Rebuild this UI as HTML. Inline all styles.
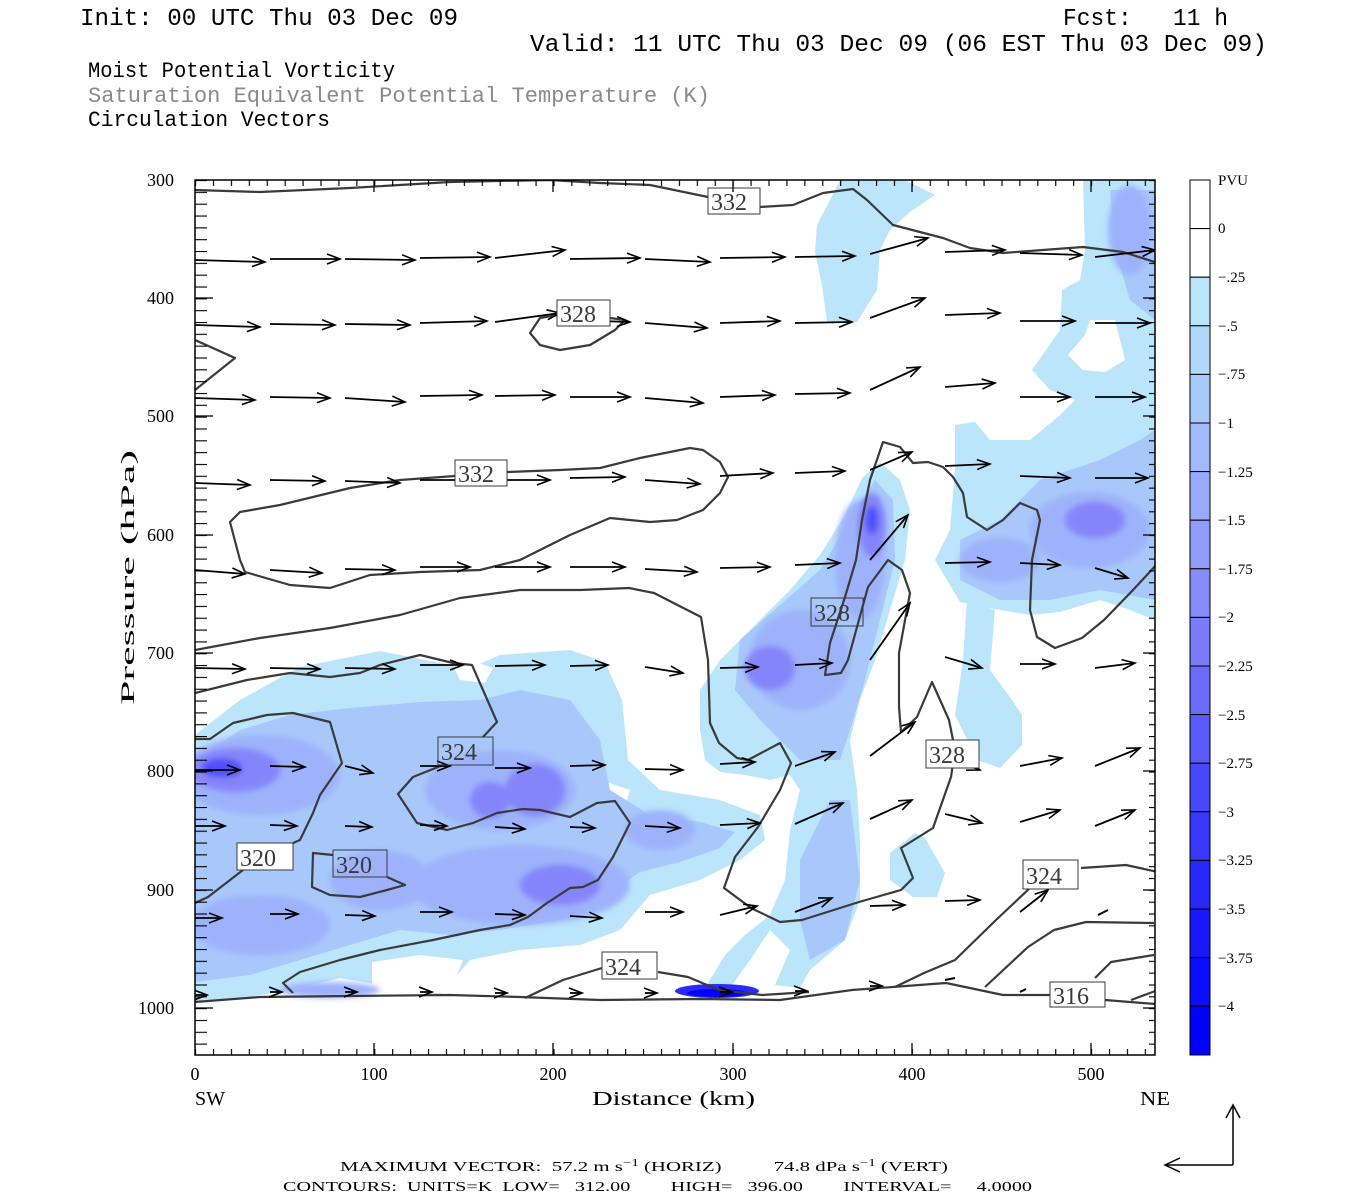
<!DOCTYPE html>
<html><head><meta charset="utf-8"><style>
html,body{margin:0;padding:0;background:#fff;}
svg{display:block;}
text{font-family:"Liberation Serif","DejaVu Serif",serif;}
.m{font-family:"Liberation Mono","DejaVu Sans Mono",monospace;}
</style></head><body>
<svg width="1350" height="1200" viewBox="0 0 1350 1200" xmlns="http://www.w3.org/2000/svg">
<defs>
<marker id="ah" markerWidth="16" markerHeight="12" refX="14" refY="6" orient="auto" markerUnits="userSpaceOnUse"><path d="M1,1 L14,6 L1,11" fill="none" stroke="#000" stroke-width="1.6"/></marker>
<pattern id="tl" patternUnits="userSpaceOnUse" x="0" y="180" width="20" height="11.83"><line x1="0" y1="0.5" x2="20" y2="0.5" stroke="#000" stroke-width="1.3"/></pattern>
<pattern id="tb" patternUnits="userSpaceOnUse" x="195" y="0" width="17.92" height="20"><line x1="0.5" y1="0" x2="0.5" y2="20" stroke="#000" stroke-width="1.3"/></pattern>
<clipPath id="pc"><rect x="195" y="180" width="960" height="875"/></clipPath>
<filter id="bl" x="-20%" y="-20%" width="140%" height="140%"><feGaussianBlur stdDeviation="3"/></filter>
</defs>

<!-- titles -->
<text class="m" x="80" y="25" font-size="24" textLength="378" lengthAdjust="spacingAndGlyphs">Init: 00 UTC Thu 03 Dec 09</text>
<text class="m" x="1063" y="25" font-size="24" xml:space="preserve" textLength="165" lengthAdjust="spacingAndGlyphs">Fcst:   11 h</text>
<text class="m" x="530" y="51" font-size="24" textLength="737" lengthAdjust="spacingAndGlyphs">Valid: 11 UTC Thu 03 Dec 09 (06 EST Thu 03 Dec 09)</text>
<text class="m" x="88" y="77" font-size="22" textLength="307" lengthAdjust="spacingAndGlyphs">Moist Potential Vorticity</text>
<text class="m" x="88" y="102" font-size="22" fill="#8a8a8a" textLength="622" lengthAdjust="spacingAndGlyphs">Saturation Equivalent Potential Temperature (K)</text>
<text class="m" x="88" y="126" font-size="22" textLength="242" lengthAdjust="spacingAndGlyphs">Circulation Vectors</text>

<g clip-path="url(#pc)">
<g fill="#bbe5fb">
<polygon points="195,735 240,700 300,667 380,651 430,661 470,668 500,655 570,650 605,662 622,700 628,760 660,790 720,800 760,815 765,840 740,860 700,880 650,895 620,930 580,945 520,950 470,960 440,995 380,985 340,978 300,988 250,997 195,1002"/>
<polygon points="700,690 720,660 760,620 790,590 820,555 845,515 862,478 880,462 900,480 910,510 905,560 890,610 875,660 860,700 850,740 857,790 860,840 860,900 845,940 810,970 800,988 775,985 790,950 770,930 750,960 730,988 705,988 725,955 745,935 770,915 785,880 790,830 800,790 790,775 770,780 745,775 720,772 705,760 700,730"/>
<polygon points="840,180 905,180 935,195 910,212 890,230 880,250 877,290 857,322 827,322 822,285 815,252 817,225 830,200"/>
<polygon points="1083,180 1155,180 1155,620 1130,610 1100,600 1060,612 1030,615 1000,610 960,602 935,560 950,530 955,470 955,425 975,422 990,440 1030,440 1060,415 1075,400 1050,390 1032,370 1060,330 1062,290 1080,280 1085,250"/>
<polygon points="967,600 995,610 990,670 1012,700 1022,715 1022,745 1000,768 977,760 955,715 963,660"/>
<polygon points="915,833 925,838 945,873 937,897 913,897 890,880 890,853"/>
</g>
<g fill="#fff">
<polygon points="195,815 240,812 300,818 315,830 300,860 270,870 230,873 195,878"/>
<polygon points="447,653 470,660 493,668 485,683 460,680"/>
<polygon points="567,790 600,780 630,790 625,807 590,805"/>
<polygon points="1090,320 1115,320 1125,360 1105,372 1083,370 1068,355 1085,335"/>
<polygon points="372,962 420,955 463,960 450,993 400,993 372,990"/>
</g>
<g fill="#a8c8fb">
<polygon points="195,760 240,730 290,715 350,708 420,702 480,700 520,690 570,700 600,740 610,790 650,815 700,822 735,832 720,848 680,862 640,872 600,900 560,920 500,930 450,935 400,930 350,945 300,960 250,975 195,982"/>
<polygon points="740,640 780,605 820,570 850,520 875,480 893,500 895,560 880,620 865,680 850,730 840,760 800,760 760,720 735,690"/>
<polygon points="1040,480 1100,460 1140,440 1155,430 1155,600 1100,590 1050,600 1000,600 960,580 960,540 1000,520"/>
<polygon points="1110,190 1155,190 1155,320 1130,300 1115,250"/>
<polygon points="800,860 830,800 850,800 860,880 845,940 810,960 800,920"/>
</g>
<g fill="#9db2fb" filter="url(#bl)">
<ellipse cx="260" cy="775" rx="80" ry="40"/>
<ellipse cx="500" cy="790" rx="75" ry="40"/>
<ellipse cx="520" cy="885" rx="110" ry="40"/>
<ellipse cx="260" cy="925" rx="70" ry="30"/>
<ellipse cx="380" cy="880" rx="50" ry="30"/>
<ellipse cx="660" cy="830" rx="35" ry="20"/>
<ellipse cx="800" cy="660" rx="50" ry="50"/>
<ellipse cx="860" cy="560" rx="25" ry="60"/>
<ellipse cx="1090" cy="530" rx="60" ry="38"/>
<ellipse cx="1000" cy="560" rx="40" ry="22"/>
<ellipse cx="1130" cy="230" rx="22" ry="45"/>
<ellipse cx="330" cy="990" rx="50" ry="8"/>
</g>
<g fill="#8585fb" filter="url(#bl)">
<ellipse cx="235" cy="770" rx="45" ry="22"/>
<ellipse cx="535" cy="790" rx="30" ry="26"/>
<ellipse cx="490" cy="800" rx="20" ry="18"/>
<ellipse cx="770" cy="668" rx="25" ry="22"/>
<ellipse cx="872" cy="525" rx="14" ry="32"/>
<ellipse cx="1095" cy="520" rx="30" ry="18"/>
<ellipse cx="560" cy="885" rx="40" ry="20"/>
</g>
<g fill="#5050fb" filter="url(#bl)">
<ellipse cx="222" cy="768" rx="20" ry="9"/>
<ellipse cx="872" cy="520" rx="6" ry="14"/>
</g>
<ellipse cx="717" cy="991" rx="42" ry="7" fill="#2a2afb"/>
<ellipse cx="717" cy="993" rx="30" ry="4" fill="#0000ff"/>

<g fill="none" stroke="#3a3a3a" stroke-width="2.2" stroke-linejoin="round">
<polyline points="195,190 260,192 350,188 450,182 550,180 600,183 650,185 708,197"/>
<polyline points="760,207 793,205 823,193 853,189 867,200 893,225 943,238 970,248 1003,253 1083,247 1123,252 1158,263"/>
<polyline points="557,315 540,318 530,333 540,345 560,350 590,345 615,330 625,320 610,318"/>
<polyline points="195,340 235,358 195,390"/>
<polyline points="455,476 400,480 350,488 280,505 240,512 230,522 240,560 245,572 290,585 330,588 370,575 420,572 480,570 520,560 570,535 610,518 650,522 677,520 703,510 720,493 728,477 720,462 703,450 690,448 640,458 600,468 560,470 507,472"/>
<polyline points="195,650 260,638 330,628 400,615 460,598 520,590 580,590 629,588 654,593 701,617 708,660 710,723 719,743 737,758 748,760 780,743 791,763 780,790 758,827 735,857 724,888 751,908 780,922 802,920 859,902 901,890 913,878 901,848 933,828 951,777 955,750 949,720 932,682 917,717 901,732 899,707 899,653 910,593 902,570 888,560 868,587 857,627 848,660 841,673 825,675 830,643 845,597 856,560 862,520 870,480 883,442 900,447 913,463 928,462 943,467 953,477 963,493 967,517 987,530 1003,520 1020,503 1037,510 1040,520 1032,560 1030,610 1037,637 1055,648 1082,638 1104,620 1133,590 1158,563"/>
<polyline points="195,693 247,680 290,673 330,677 360,673 380,665 420,655 453,663 472,665 497,722 483,737"/>
<polyline points="443,765 413,777 398,794 417,823 447,830 473,823 497,813 523,809 540,810 570,817 597,803 615,801 630,823 613,857 598,880 583,887 570,888 547,903 528,917 510,925 480,930 433,940 380,950 340,960 300,972 283,983 293,993"/>
<polyline points="195,739 210,739 233,723 267,715 293,713 330,722 342,763 320,795 313,813 300,840 293,843"/>
<polyline points="243,870 208,897 195,903"/>
<polyline points="333,855 313,853 312,887 330,895 360,897 387,890 405,885 387,877"/>
<polyline points="525,998 563,980 602,968"/>
<polyline points="658,972 688,977 719,990 762,995 809,992"/>
<polyline points="1030,888 996,920 955,960 924,973 895,987"/>
<polyline points="1081,868 1126,865 1158,872"/>
<polyline points="985,987 1028,947 1054,930 1086,922 1154,923"/>
<polyline points="1095,978 1111,962 1154,955"/>
<polyline points="1131,1000 1158,990"/>
<polyline points="195,1002 260,997 350,996 450,995 520,997 600,1000 700,999 780,1000 852,990 946,983 1003,995 1050,995"/>
<polyline points="1105,1000 1155,1004"/>
</g>

<g stroke="#000" stroke-width="1.8" marker-end="url(#ah)">
<line x1="195" y1="260" x2="265" y2="262"/><line x1="270" y1="259" x2="340" y2="259"/><line x1="345" y1="259" x2="415" y2="260"/><line x1="420" y1="258" x2="490" y2="257"/><line x1="495" y1="258" x2="565" y2="250"/><line x1="570" y1="259" x2="640" y2="258"/><line x1="645" y1="259" x2="710" y2="262"/><line x1="720" y1="258" x2="785" y2="257"/><line x1="795" y1="257" x2="855" y2="256"/><line x1="870" y1="254" x2="928" y2="238"/><line x1="945" y1="252" x2="1005" y2="250"/><line x1="1020" y1="253" x2="1082" y2="255"/><line x1="1095" y1="257" x2="1155" y2="250"/>
<line x1="195" y1="325" x2="260" y2="327"/><line x1="270" y1="324" x2="335" y2="325"/><line x1="345" y1="324" x2="410" y2="325"/><line x1="420" y1="323" x2="487" y2="321"/><line x1="495" y1="322" x2="560" y2="313"/><line x1="570" y1="320" x2="630" y2="322"/><line x1="645" y1="323" x2="707" y2="328"/><line x1="720" y1="323" x2="780" y2="321"/><line x1="795" y1="323" x2="852" y2="322"/><line x1="870" y1="318" x2="925" y2="298"/><line x1="945" y1="315" x2="1000" y2="313"/><line x1="1020" y1="321" x2="1075" y2="321"/><line x1="1095" y1="323" x2="1150" y2="323"/>
<line x1="195" y1="398" x2="255" y2="400"/><line x1="270" y1="397" x2="330" y2="398"/><line x1="345" y1="398" x2="405" y2="402"/><line x1="420" y1="396" x2="482" y2="395"/><line x1="495" y1="396" x2="555" y2="395"/><line x1="570" y1="397" x2="630" y2="397"/><line x1="645" y1="398" x2="703" y2="403"/><line x1="720" y1="397" x2="775" y2="395"/><line x1="795" y1="394" x2="850" y2="393"/><line x1="870" y1="390" x2="920" y2="367"/><line x1="945" y1="387" x2="995" y2="383"/><line x1="1020" y1="397" x2="1070" y2="397"/><line x1="1095" y1="397" x2="1145" y2="397"/>
<line x1="195" y1="483" x2="250" y2="485"/><line x1="270" y1="480" x2="325" y2="481"/><line x1="345" y1="481" x2="400" y2="483"/><line x1="420" y1="480" x2="472" y2="480"/><line x1="495" y1="480" x2="550" y2="480"/><line x1="570" y1="478" x2="625" y2="477"/><line x1="645" y1="480" x2="700" y2="484"/><line x1="720" y1="476" x2="773" y2="473"/><line x1="795" y1="473" x2="845" y2="471"/><line x1="870" y1="470" x2="912" y2="452"/><line x1="945" y1="466" x2="990" y2="464"/><line x1="1020" y1="476" x2="1070" y2="478"/><line x1="1095" y1="478" x2="1148" y2="478"/>
<line x1="195" y1="570" x2="245" y2="574"/><line x1="270" y1="570" x2="322" y2="573"/><line x1="345" y1="569" x2="395" y2="570"/><line x1="420" y1="567" x2="470" y2="567"/><line x1="495" y1="567" x2="550" y2="567"/><line x1="570" y1="567" x2="625" y2="567"/><line x1="645" y1="569" x2="697" y2="572"/><line x1="720" y1="568" x2="770" y2="567"/><line x1="795" y1="565" x2="840" y2="563"/><line x1="870" y1="560" x2="908" y2="515"/><line x1="945" y1="563" x2="990" y2="562"/><line x1="1020" y1="563" x2="1060" y2="565"/><line x1="1095" y1="568" x2="1128" y2="578"/>
<line x1="195" y1="668" x2="245" y2="669"/><line x1="270" y1="668" x2="320" y2="669"/><line x1="345" y1="668" x2="395" y2="669"/><line x1="420" y1="665" x2="463" y2="665"/><line x1="495" y1="666" x2="545" y2="665"/><line x1="570" y1="666" x2="608" y2="665"/><line x1="645" y1="667" x2="683" y2="673"/><line x1="720" y1="668" x2="758" y2="667"/><line x1="795" y1="665" x2="832" y2="663"/><line x1="870" y1="660" x2="910" y2="603"/><line x1="945" y1="657" x2="982" y2="668"/><line x1="1020" y1="664" x2="1055" y2="664"/><line x1="1095" y1="668" x2="1135" y2="663"/>
<line x1="195" y1="770" x2="240" y2="770"/><line x1="270" y1="766" x2="305" y2="767"/><line x1="345" y1="766" x2="373" y2="773"/><line x1="420" y1="766" x2="450" y2="766"/><line x1="495" y1="768" x2="530" y2="768"/><line x1="570" y1="766" x2="605" y2="765"/><line x1="645" y1="769" x2="683" y2="770"/><line x1="720" y1="764" x2="755" y2="762"/><line x1="795" y1="766" x2="835" y2="752"/><line x1="870" y1="756" x2="915" y2="722"/><line x1="945" y1="757" x2="980" y2="770"/><line x1="1020" y1="766" x2="1062" y2="758"/><line x1="1095" y1="766" x2="1140" y2="748"/>
<line x1="195" y1="826" x2="225" y2="826"/><line x1="270" y1="825" x2="297" y2="826"/><line x1="345" y1="826" x2="372" y2="827"/><line x1="420" y1="825" x2="447" y2="826"/><line x1="495" y1="827" x2="525" y2="829"/><line x1="570" y1="827" x2="595" y2="828"/><line x1="645" y1="826" x2="680" y2="828"/><line x1="720" y1="825" x2="760" y2="823"/><line x1="795" y1="824" x2="843" y2="803"/><line x1="870" y1="819" x2="912" y2="800"/><line x1="945" y1="814" x2="982" y2="823"/><line x1="1020" y1="822" x2="1060" y2="810"/><line x1="1095" y1="826" x2="1135" y2="810"/>
<line x1="195" y1="918" x2="222" y2="918"/><line x1="270" y1="914" x2="298" y2="914"/><line x1="345" y1="915" x2="375" y2="916"/><line x1="420" y1="912" x2="452" y2="912"/><line x1="495" y1="914" x2="525" y2="915"/><line x1="570" y1="916" x2="602" y2="918"/><line x1="645" y1="912" x2="683" y2="912"/><line x1="720" y1="915" x2="757" y2="906"/><line x1="795" y1="912" x2="832" y2="898"/><line x1="870" y1="906" x2="905" y2="905"/><line x1="945" y1="901" x2="980" y2="900"/><line x1="1020" y1="912" x2="1048" y2="890"/>
<line x1="195" y1="995" x2="207" y2="995"/><line x1="270" y1="992" x2="282" y2="992"/><line x1="345" y1="992" x2="357" y2="992"/><line x1="420" y1="992" x2="432" y2="992"/><line x1="495" y1="993" x2="507" y2="993"/><line x1="570" y1="993" x2="582" y2="993"/><line x1="645" y1="993" x2="657" y2="993"/><line x1="720" y1="992" x2="732" y2="992"/><line x1="795" y1="991" x2="807" y2="991"/><line x1="870" y1="986" x2="882" y2="986"/>
</g>
<g stroke="#000" stroke-width="2"><line x1="1098" y1="915" x2="1108" y2="910"/><line x1="945" y1="980" x2="955" y2="978"/><line x1="1020" y1="992" x2="1026" y2="989"/></g>

<g font-size="24" fill="#3a3a3a">
<rect x="708" y="188" width="52" height="26" fill="#fff" stroke="#3a3a3a"/><text x="711" y="210">332</text>
<rect x="557" y="300" width="53" height="26" fill="#fff" stroke="#3a3a3a"/><text x="560" y="322">328</text>
<rect x="455" y="460" width="52" height="26" fill="#fff" stroke="#3a3a3a"/><text x="458" y="482">332</text>
<rect x="811" y="598" width="52" height="28" fill="none" stroke="#3a3a3a"/><text x="814" y="621">328</text>
<rect x="926" y="740" width="53" height="28" fill="#fff" stroke="#3a3a3a"/><text x="929" y="763">328</text>
<rect x="438" y="737" width="55" height="28" fill="none" stroke="#3a3a3a"/><text x="441" y="760">324</text>
<rect x="237" y="843" width="56" height="27" fill="#fff" stroke="#3a3a3a"/><text x="240" y="866">320</text>
<rect x="333" y="850" width="54" height="27" fill="none" stroke="#3a3a3a"/><text x="336" y="873">320</text>
<rect x="1023" y="860" width="55" height="29" fill="#fff" stroke="#3a3a3a"/><text x="1026" y="884">324</text>
<rect x="602" y="952" width="55" height="27" fill="#fff" stroke="#3a3a3a"/><text x="605" y="975">324</text>
<rect x="1050" y="982" width="55" height="25" fill="#fff" stroke="#3a3a3a"/><text x="1053" y="1004">316</text>
</g>
</g>

<rect x="195" y="180" width="12" height="875" fill="url(#tl)"/>
<rect x="1149" y="180" width="6" height="875" fill="url(#tl)"/>
<rect x="195" y="1049" width="960" height="6" fill="url(#tb)"/>
<rect x="195" y="180" width="960" height="6" fill="url(#tb)"/>
<g stroke="#000" stroke-width="1.3">
<line x1="195" y1="298" x2="213" y2="298"/><line x1="195" y1="416" x2="213" y2="416"/><line x1="195" y1="535" x2="213" y2="535"/><line x1="195" y1="653" x2="213" y2="653"/><line x1="195" y1="771" x2="213" y2="771"/><line x1="195" y1="890" x2="213" y2="890"/><line x1="195" y1="1008" x2="213" y2="1008"/>
<line x1="1155" y1="298" x2="1143" y2="298"/><line x1="1155" y1="416" x2="1143" y2="416"/><line x1="1155" y1="535" x2="1143" y2="535"/><line x1="1155" y1="653" x2="1143" y2="653"/><line x1="1155" y1="771" x2="1143" y2="771"/><line x1="1155" y1="890" x2="1143" y2="890"/><line x1="1155" y1="1008" x2="1143" y2="1008"/>
<line x1="374" y1="1055" x2="374" y2="1043"/><line x1="553" y1="1055" x2="553" y2="1043"/><line x1="733" y1="1055" x2="733" y2="1043"/><line x1="912" y1="1055" x2="912" y2="1043"/><line x1="1091" y1="1055" x2="1091" y2="1043"/>
<line x1="374" y1="180" x2="374" y2="192"/><line x1="553" y1="180" x2="553" y2="192"/><line x1="733" y1="180" x2="733" y2="192"/><line x1="912" y1="180" x2="912" y2="192"/><line x1="1091" y1="180" x2="1091" y2="192"/>
</g>
<rect x="195" y="180" width="960" height="875" fill="none" stroke="#000" stroke-width="1.5"/>

<g font-size="18" text-anchor="end">
<text x="174" y="186">300</text><text x="174" y="304">400</text><text x="174" y="422">500</text><text x="174" y="541">600</text><text x="174" y="659">700</text><text x="174" y="777">800</text><text x="174" y="896">900</text><text x="174" y="1014">1000</text>
</g>
<g font-size="18" text-anchor="middle">
<text x="195" y="1080">0</text><text x="374" y="1080">100</text><text x="553" y="1080">200</text><text x="733" y="1080">300</text><text x="912" y="1080">400</text><text x="1091" y="1080">500</text>
</g>
<text x="195" y="1105" font-size="20" textLength="30" lengthAdjust="spacingAndGlyphs">SW</text>
<text x="1140" y="1105" font-size="20" textLength="30" lengthAdjust="spacingAndGlyphs">NE</text>
<text x="592" y="1105" font-size="20" textLength="163" lengthAdjust="spacingAndGlyphs">Distance (km)</text>
<text transform="translate(134,705) rotate(-90)" font-size="19" textLength="255" lengthAdjust="spacingAndGlyphs">Pressure (hPa)</text>

<g stroke="#000" stroke-width="1">
<rect x="1190" y="180" width="20" height="48.6" fill="#fff"/>
<rect x="1190" y="228.6" width="20" height="48.6" fill="#fff"/>
<rect x="1190" y="277.2" width="20" height="48.6" fill="#bbe5fb"/>
<rect x="1190" y="325.8" width="20" height="48.6" fill="#b1d8fb"/>
<rect x="1190" y="374.4" width="20" height="48.6" fill="#a8cafb"/>
<rect x="1190" y="423" width="20" height="48.6" fill="#a0bafb"/>
<rect x="1190" y="471.6" width="20" height="48.6" fill="#98abfb"/>
<rect x="1190" y="520.2" width="20" height="48.6" fill="#909dfb"/>
<rect x="1190" y="568.8" width="20" height="48.6" fill="#878cfb"/>
<rect x="1190" y="617.4" width="20" height="48.6" fill="#7a7afb"/>
<rect x="1190" y="666" width="20" height="48.6" fill="#6a6afb"/>
<rect x="1190" y="714.6" width="20" height="48.6" fill="#5a5afb"/>
<rect x="1190" y="763.2" width="20" height="48.6" fill="#4848fb"/>
<rect x="1190" y="811.8" width="20" height="48.6" fill="#3838fb"/>
<rect x="1190" y="860.4" width="20" height="48.6" fill="#2828fb"/>
<rect x="1190" y="909" width="20" height="48.6" fill="#1818fb"/>
<rect x="1190" y="957.6" width="20" height="48.6" fill="#0b0bfd"/>
<rect x="1190" y="1006.2" width="20" height="48.8" fill="#0000ff"/>
</g>
<g font-size="15">
<text x="1218" y="185">PVU</text>
<text x="1218" y="233">0</text>
<text x="1218" y="282">−.25</text>
<text x="1218" y="331">−.5</text>
<text x="1218" y="379">−.75</text>
<text x="1218" y="428">−1</text>
<text x="1218" y="477">−1.25</text>
<text x="1218" y="525">−1.5</text>
<text x="1218" y="574">−1.75</text>
<text x="1218" y="622">−2</text>
<text x="1218" y="671">−2.25</text>
<text x="1218" y="720">−2.5</text>
<text x="1218" y="768">−2.75</text>
<text x="1218" y="817">−3</text>
<text x="1218" y="865">−3.25</text>
<text x="1218" y="914">−3.5</text>
<text x="1218" y="963">−3.75</text>
<text x="1218" y="1011">−4</text>
</g>

<text x="340" y="1171" font-size="14" textLength="608" lengthAdjust="spacingAndGlyphs" xml:space="preserve">MAXIMUM VECTOR:  57.2 m s<tspan dy="-5" font-size="10">−1</tspan><tspan dy="5"> (HORIZ)          74.8 dPa s</tspan><tspan dy="-5" font-size="10">−1</tspan><tspan dy="5"> (VERT)</tspan></text>
<text x="283" y="1191" font-size="14" textLength="749" lengthAdjust="spacingAndGlyphs" xml:space="preserve">CONTOURS:  UNITS=K  LOW=   312.00        HIGH=   396.00        INTERVAL=     4.0000</text>

<g stroke="#000" stroke-width="1.5" fill="none">
<line x1="1233" y1="1165" x2="1233" y2="1106"/>
<polyline points="1226,1118 1233,1105 1240,1118"/>
<line x1="1233" y1="1165" x2="1166" y2="1165"/>
<polyline points="1180,1158 1165,1165 1180,1172"/>
</g>
</svg>
</body></html>
